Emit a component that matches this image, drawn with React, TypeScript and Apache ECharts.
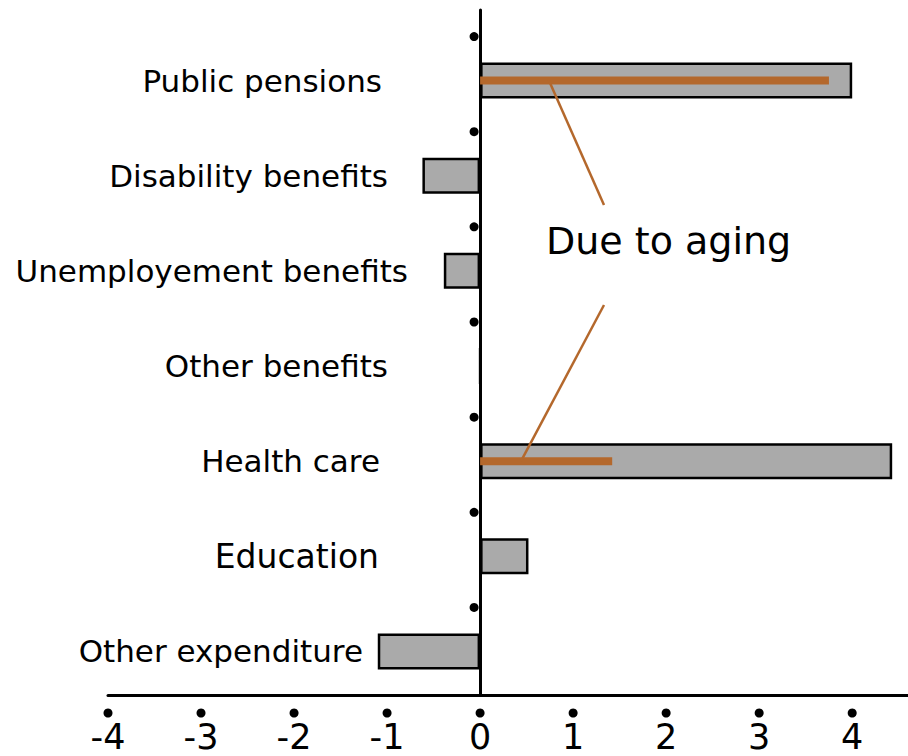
import React, { useEffect, useRef } from 'react';
import * as echarts from 'echarts';

// ---- data ----
const categories = [
  'Public pensions',
  'Disability benefits',
  'Unemployement benefits',
  'Other benefits',
  'Health care',
  'Education',
  'Other expenditure',
];
const totalChange = [4.0, -0.62, -0.39, 0, 4.43, 0.52, -1.1];
const agingChange = [3.75, null, null, null, 1.42, null, null];
const xTicks = [-4, -3, -2, -1, 0, 1, 2, 3, 4];
const xMin = -4;
const xMax = 4.6;
const annotationText = 'Due to aging';
const pensionsAnchor = [0.74, 'Public pensions'];
const healthAnchor = [0.44, 'Health care'];

// ---- styling (layout only) ----
const FONT = "'DejaVu Sans', Verdana, sans-serif";
const ORANGE = '#b4682c';
const labelPadRight = [26, 20, 0, 20, 28, 29, 45];
const labelFontSize = [31, 31, 31, 31, 31, 33, 31];

export default function App() {
  const ref = useRef<HTMLDivElement>(null);

  useEffect(() => {
    if (!ref.current) return;
    const chart = echarts.init(ref.current, undefined, { renderer: 'svg' });

    const rich: Record<string, any> = {};
    categories.forEach((_, i) => {
      rich['s' + i] = {
        fontFamily: FONT,
        fontSize: labelFontSize[i],
        color: '#000',
        padding: [0, labelPadRight[i], 0, 0],
      };
    });

    const option: any = {
      animation: false,
      backgroundColor: '#fff',
      textStyle: { fontFamily: FONT },
      grid: [
        { left: 108, right: 0, top: 33, bottom: 57, containLabel: false, outerBoundsMode: 'none' },
        { left: 108, right: 0, top: 10, bottom: 61, containLabel: false, outerBoundsMode: 'none' },
      ],
      xAxis: [
        {
          gridIndex: 0,
          type: 'value',
          min: xMin,
          max: xMax,
          axisLine: { show: false },
          axisTick: { show: false },
          axisLabel: { show: false },
          splitLine: { show: false },
        },
        {
          gridIndex: 1,
          type: 'value',
          min: xMin,
          max: xMax,
          interval: 1,
          axisLine: { show: true, onZero: false, lineStyle: { color: '#000', width: 3 } },
          axisTick: { show: false },
          splitLine: { show: false },
          axisLabel: {
            margin: 24,
            showMaxLabel: false,
            fontFamily: FONT,
            fontSize: 35,
            lineHeight: 36,
            color: '#000',
            formatter: (v: number) => (Number.isInteger(v) ? String(v) : ''),
          },
        },
      ],
      yAxis: [
        {
          gridIndex: 0,
          type: 'category',
          inverse: true,
          data: categories,
          axisLine: { show: false, onZero: false },
          axisTick: { show: false },
          splitLine: { show: false },
          axisLabel: {
            margin: -300,
            formatter: (v: string, i: number) => `{s${i}|${v}}`,
            rich,
          },
        },
        {
          gridIndex: 0,
          type: 'category',
          inverse: true,
          data: categories,
          show: false,
        },
        {
          gridIndex: 1,
          type: 'value',
          min: 0,
          max: 1,
          axisLine: { show: true, onZero: true, lineStyle: { color: '#000', width: 3 } },
          axisTick: { show: false },
          axisLabel: { show: false },
          splitLine: { show: false },
        },
      ],
      series: [
        {
          name: 'Total change',
          type: 'bar',
          xAxisIndex: 0,
          yAxisIndex: 0,
          data: totalChange,
          barWidth: 36,
          itemStyle: { color: '#aaaaaa', borderColor: '#000', borderWidth: 2.5 },
          z: 2,
        },
        {
          name: 'Due to aging',
          type: 'bar',
          xAxisIndex: 0,
          yAxisIndex: 1,
          data: agingChange,
          barWidth: 8,
          itemStyle: { color: ORANGE },
          z: 3,
          markLine: {
            silent: true,
            symbol: ['none', 'none'],
            label: { show: false },
            lineStyle: { color: ORANGE, width: 2.5, type: 'solid' },
            data: [
              [{ coord: pensionsAnchor }, { x: 604, y: 205 }],
              [{ x: 604, y: 305 }, { coord: healthAnchor }],
            ],
          },
        },
        {
          name: 'category dots',
          type: 'scatter',
          xAxisIndex: 0,
          yAxisIndex: 0,
          data: categories.map((c) => [0, c]),
          symbol: 'circle',
          symbolSize: 9,
          symbolOffset: [-6, -44],
          itemStyle: { color: '#000', opacity: 1 },
          z: 4,
          silent: true,
        },
        {
          name: 'tick dots',
          type: 'scatter',
          xAxisIndex: 1,
          yAxisIndex: 2,
          data: xTicks.map((v) => [v, 0]),
          symbol: 'circle',
          symbolSize: 9,
          symbolOffset: [0, 18],
          itemStyle: { color: '#000', opacity: 1 },
          clip: false,
          z: 4,
          silent: true,
        },
      ],
      graphic: [
        {
          type: 'text',
          left: 546,
          top: 222,
          style: {
            text: annotationText,
            fontFamily: FONT,
            fontSize: 38,
            fill: '#000',
          },
        },
      ],
    };

    chart.setOption(option);
    return () => chart.dispose();
  }, []);

  return (
    <div
      ref={ref}
      style={{ position: 'fixed', left: 0, top: 0, width: 908, height: 756 }}
    />
  );
}
